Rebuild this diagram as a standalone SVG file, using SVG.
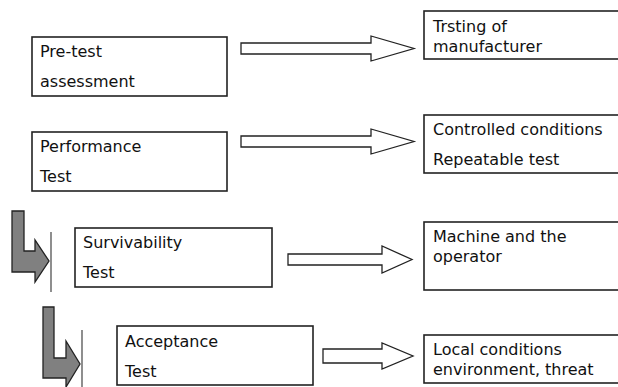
<svg xmlns="http://www.w3.org/2000/svg" width="618" height="387" viewBox="0 0 618 387">
<style>
.box{fill:#fff;stroke:#222;stroke-width:1.6}
.t{font-family:"DejaVu Sans",Verdana,sans-serif;font-size:16px;fill:#111}
.arr{fill:#fff;stroke:#222;stroke-width:1.3;stroke-linejoin:miter}
.garr{fill:#808080;stroke:#222;stroke-width:1.3}
.vl{stroke:#444;stroke-width:1.2}
</style>
<rect width="618" height="387" fill="#fff"/>
<g id="connectors">
<polygon class="arr" points="241,43 371,43 371,36 414,48.5 371,61 371,54 241,54"/>
<polygon class="arr" points="241,136 371,136 371,129 414,141.5 371,154 371,147 241,147"/>
<polygon class="arr" points="288,254 382,254 382,246 412,259.5 382,273 382,265 288,265"/>
<polygon class="arr" points="323,349 382,349 382,343 413,356 382,369 382,363 323,363"/>
<polygon class="garr" points="12,211 24,211 24,251 35,251 35,240 49,261 35,282 35,272 12,272"/>
<line class="vl" x1="51" y1="232" x2="51" y2="292"/>
<polygon class="garr" points="43,307 54,307 54,358 66,358 66,341 80,364 66,387 66,378 43,378"/>
<line class="vl" x1="82" y1="330" x2="82" y2="387"/>
</g>
<g id="pretest">
<rect class="box" x="32" y="37" width="195" height="59"/>
<text class="t" x="40" y="57">Pre-test</text>
<text class="t" x="40" y="87">assessment</text>
</g>
<g id="performance">
<rect class="box" x="32" y="132" width="195" height="59"/>
<text class="t" x="40" y="152">Performance</text>
<text class="t" x="40" y="182">Test</text>
</g>
<g id="survivability">
<rect class="box" x="75" y="228" width="197" height="59"/>
<text class="t" x="83" y="248">Survivability</text>
<text class="t" x="83" y="278">Test</text>
</g>
<g id="acceptance">
<rect class="box" x="117" y="326" width="196" height="59"/>
<text class="t" x="125" y="347">Acceptance</text>
<text class="t" x="125" y="377">Test</text>
</g>
<g id="manufacturer">
<rect class="box" x="424" y="11" width="200" height="48"/>
<text class="t" x="433" y="32">Trsting of</text>
<text class="t" x="433" y="52">manufacturer</text>
</g>
<g id="controlled">
<rect class="box" x="424" y="115" width="200" height="58"/>
<text class="t" x="433" y="135">Controlled conditions</text>
<text class="t" x="433" y="165">Repeatable test</text>
</g>
<g id="machine">
<rect class="box" x="424" y="222" width="200" height="68"/>
<text class="t" x="433" y="242">Machine and the</text>
<text class="t" x="433" y="262">operator</text>
</g>
<g id="local">
<rect class="box" x="424" y="335" width="200" height="48"/>
<text class="t" x="433" y="355">Local conditions</text>
<text class="t" x="433" y="375">environment, threat</text>
</g>
</svg>
